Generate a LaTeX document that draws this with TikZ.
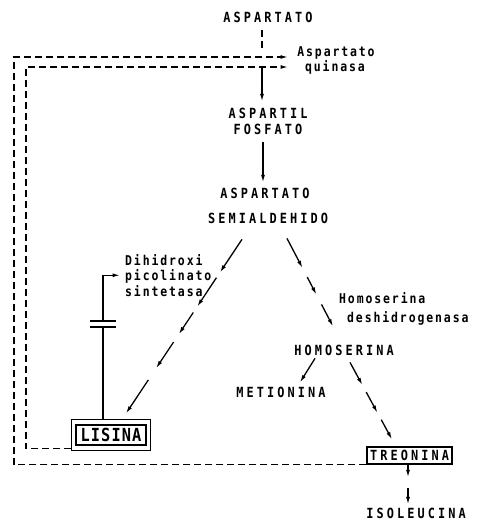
\documentclass[tikz,border=0pt]{standalone}
\usepackage{fontspec}
\setmainfont{DejaVu Sans Mono}
\newfontfamily\capsf{DejaVu Sans Mono Bold}[FakeStretch=0.85,LetterSpace=22]
\newfontfamily\lowf{DejaVu Sans Mono Bold}[FakeStretch=0.85,LetterSpace=14]
\newfontfamily\bigf{DejaVu Sans Mono Bold}[FakeStretch=0.85,LetterSpace=6]
\usetikzlibrary{arrows.meta,calc}
\newcommand\segarrows[3]{\foreach \a/\b in {#3} \draw[seg] ($(#1)!\a!(#2)$) -- ($(#1)!\b!(#2)$);}
\begin{document}
\begin{tikzpicture}[x=1pt,y=-1pt,
  caps/.style={font=\capsf\fontsize{14}{16}\selectfont, inner sep=2pt, anchor=base},
  low/.style={font=\lowf\fontsize{13.5}{15.5}\selectfont, inner sep=0pt},
  ln/.style={line width=1.3pt},
  tip/.style={-{Latex[length=7.5pt,width=4pt]}},
  fb/.style={line width=1.3pt, dash pattern=on 7pt off 4pt},
  seg/.style={ln, tip}]
\useasboundingbox (0,0) rectangle (477,524);

% labels
\node[caps] (asp) at (268,23) {ASPARTATO};
\node[low, anchor=base] (aq1) at (336,57) {Aspartato};
\node[low, anchor=base] (aq2) at (335,72) {quinasa};
\node[caps] (ap1) at (268,118) {ASPARTIL};
\node[caps] (ap2) at (268,135) {FOSFATO};
\node[caps] (as2) at (265,198) {ASPARTATO};
\node[caps] (sem) at (268,223) {SEMIALDEHIDO};
\node[low, anchor=north west, align=left] (dps) at (125,254) {Dihidroxi\\picolinato\\sintetasa};
\node[low, anchor=base west] (hd1) at (339,303) {Homoserina};
\node[low, anchor=base west] (hd2) at (347,322) {deshidrogenasa};
\node[caps] (hom) at (344,355) {HOMOSERINA};
\node[caps] (met) at (281,397) {METIONINA};
\node[caps, draw, line width=1.1pt, anchor=center, minimum width=85, minimum height=17, inner sep=0pt] (tre) at (409.5,455.5) {TREONINA};
\node[caps] (iso) at (416,518) {ISOLEUCINA};
\node[font=\bigf\fontsize{18}{20}\selectfont, draw, line width=1.1pt, minimum width=70, minimum height=20, inner sep=0pt] (lis) at (111,435) {LISINA};
\draw[line width=1pt] ($(lis.north west)+(-4,-5)$) rectangle ($(lis.south east)+(4,5)$);

% helper coordinates
\coordinate (oc) at (14,57);
\coordinate (ot) at (288,57);
\coordinate (ic) at (26,67);
\coordinate (it) at (288,67);
\coordinate (kd) at (262,51);
\coordinate (ks) at (262,67);
\coordinate (c1) at (103,321);
\coordinate (c2) at (103,327);

% main chain
\draw[fb, shorten <=5pt] (asp.south -| kd) -- (kd);
\draw[ln, tip, shorten >=4pt] (ks) -- (ks |- ap1.north);
\draw[ln, tip, shorten <=5pt, shorten >=3pt] ([xshift=-5pt]ap2.south) -- ([xshift=-5pt]ap2.south |- as2.north);

% feedback inhibition
\draw[fb, tip] (tre.south west) -| (oc) -- (ot);
\draw[fb, tip] ($(lis.south west)+(-4,3)$) -| (ic) -- (it);

% branches
\coordinate (l0) at ($(sem.south)+(-26,14)$);
\coordinate (l1) at ($(lis.north)+(15,-11)$);
\segarrows{l0}{l1}{0/0.19,0.22/0.386,0.42/0.545,0.59/0.74,0.807/1}
\coordinate (r0) at ($(sem.south)+(19,13)$);
\coordinate (r1) at ($(hom.north)+(-11,-16)$);
\segarrows{r0}{r1}{0/0.337,0.44/0.64,0.75/1}
\coordinate (h0) at ($(hom.south)+(6,5)$);
\coordinate (h1) at ($(tre.north)+(-17.5,-7)$);
\segarrows{h0}{h1}{0/0.295,0.385/0.654,0.744/1}
\coordinate (t0) at ($(tre.south)+(-1.5,0)$);
\coordinate (t1) at ($(iso.north)+(-8,-1)$);
\segarrows{t0}{t1}{0/0.32,0.585/1}
\draw[ln, tip] ($(hom.south)+(-29,1)$) -- ($(met.north)+(19,-2)$);

% enzyme with condenser-like mark
\draw[ln] ($(lis.north)+(-8,-5)$) -- (c2);
\draw[ln] ($(c1)+(-13,0)$) -- ($(c1)+(13,0)$);
\draw[ln] ($(c2)+(-13,0)$) -- ($(c2)+(13,0)$);
\draw[ln, tip, shorten >=5pt] (c1) |- (dps.west);
\end{tikzpicture}
\end{document}
